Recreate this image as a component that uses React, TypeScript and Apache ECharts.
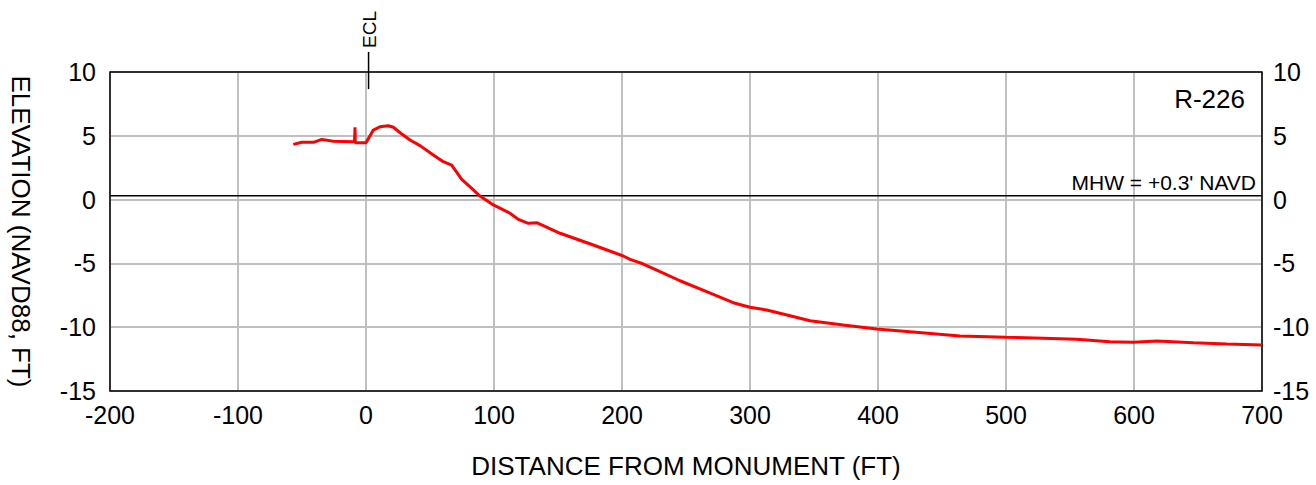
import React, { useEffect, useRef } from "react";
import * as echarts from "echarts";

const distance = [-56.8, -50.2, -41, -34.6, -25.5, -9, -8.6, -8.4, 0, 5.7, 10.9, 17.4, 21.4, 26.6, 34.4, 42.2, 52.6, 60.4, 66.9, 74.8, 82.6, 89, 99.5, 112.5, 119, 126.8, 133.4, 151.6, 177.6, 201, 206.3, 216.7, 229.7, 245.3, 266.1, 286.9, 300, 313, 323.4, 346.9, 372.9, 398.9, 425, 464, 499.8, 529.2, 555.2, 581.2, 599.5, 617.7, 646.4, 672.4, 700];
const elevation = [4.33, 4.49, 4.49, 4.72, 4.57, 4.54, 5.67, 4.45, 4.45, 5.45, 5.71, 5.79, 5.67, 5.24, 4.67, 4.23, 3.5, 2.97, 2.71, 1.59, 0.88, 0.28, -0.42, -1.07, -1.55, -1.86, -1.81, -2.64, -3.56, -4.42, -4.68, -5.05, -5.65, -6.36, -7.22, -8.08, -8.44, -8.65, -8.91, -9.49, -9.83, -10.14, -10.35, -10.69, -10.79, -10.87, -10.95, -11.14, -11.18, -11.08, -11.21, -11.32, -11.4];

const xMin = -200;
const xMax = 700;
const xStep = 100;
const yMin = -15;
const yMax = 10;
const yStep = 5;
const mhw = 0.3;
const eclX = 2;
const eclSpan = [8.66, 11.57];
const profileName = "R-226";
const mhwLabel = "MHW = +0.3' NAVD";
const xName = "DISTANCE FROM MONUMENT (FT)";
const yName = "ELEVATION (NAVD88, FT)";

export default function App() {
  const ref = useRef<HTMLDivElement>(null);
  useEffect(() => {
    if (!ref.current) return;
    const chart = echarts.init(ref.current, undefined, { renderer: "svg" });
    const font = "'Liberation Sans', Arial, sans-serif";
    const axisLabel = { color: "#000", fontSize: 25, fontFamily: font };
    chart.setOption({
      animation: false,
      backgroundColor: "#fff",
      grid: { left: 110, right: 54, top: 72, bottom: 94, show: true, borderColor: "#000", borderWidth: 1.5, z: 3 },
      xAxis: {
        type: "value",
        min: xMin,
        max: xMax,
        interval: xStep,
        name: xName,
        nameLocation: "middle",
        nameGap: 62,
        nameTextStyle: { color: "#000", fontSize: 26, fontFamily: font },
        axisLine: { show: false },
        axisTick: { show: false },
        axisLabel: { ...axisLabel, margin: 11 },
        splitLine: { show: true, lineStyle: { color: "#c0c0c0", width: 2 } },
      },
      yAxis: [
        {
          type: "value",
          min: yMin,
          max: yMax,
          interval: yStep,
          name: yName,
          nameLocation: "middle",
          nameRotate: -90,
          nameGap: 76,
          nameTextStyle: { color: "#000", fontSize: 26, fontFamily: font },
          axisLine: { show: false },
          axisTick: { show: false },
          axisLabel: { ...axisLabel, margin: 14 },
          splitLine: { show: true, lineStyle: { color: "#c0c0c0", width: 2 } },
        },
        {
          type: "value",
          min: yMin,
          max: yMax,
          interval: yStep,
          position: "right",
          axisLine: { show: false },
          axisTick: { show: false },
          axisLabel: { ...axisLabel, margin: 11 },
          splitLine: { show: false },
        },
      ],
      series: [
        {
          type: "line",
          name: "MHW",
          data: [[xMin, mhw], [xMax, mhw]],
          symbol: "none",
          lineStyle: { color: "#000", width: 1.5 },
          z: 4,
        },
        {
          type: "line",
          name: "ECL",
          data: [[eclX, eclSpan[0]], [eclX, eclSpan[1]]],
          symbol: "none",
          clip: false,
          lineStyle: { color: "#000", width: 1.5 },
          z: 4,
        },
        {
          type: "line",
          name: profileName,
          data: distance.map((d, i) => [d, elevation[i]]),
          symbol: "none",
          lineStyle: { color: "#ff0000", width: 3 },
          z: 5,
        },
      ],
    });
    const top = chart.convertToPixel({ gridIndex: 0 }, [eclX, eclSpan[1]]) as number[];
    const mhwPt = chart.convertToPixel({ gridIndex: 0 }, [xMax, mhw]) as number[];
    chart.setOption({
      graphic: [
        {
          type: "text",
          x: top[0] + 1,
          y: top[1] - 4,
          rotation: Math.PI / 2,
          style: { text: "ECL", fontSize: 19, fontFamily: font, fill: "#000", textAlign: "left", textVerticalAlign: "middle" },
        },
        {
          type: "text",
          x: 1245,
          y: 99,
          style: { text: profileName, fontSize: 26, fontFamily: font, fill: "#000", textAlign: "right", textVerticalAlign: "middle" },
        },
        {
          type: "text",
          x: mhwPt[0] - 6,
          y: mhwPt[1] - 3,
          style: { text: mhwLabel, fontSize: 21, fontFamily: font, fill: "#000", textAlign: "right", textVerticalAlign: "bottom" },
        },
      ],
    });
    return () => chart.dispose();
  }, []);
  return <div ref={ref} style={{ position: "absolute", left: 0, top: 0, width: 1316, height: 485 }} />;
}
